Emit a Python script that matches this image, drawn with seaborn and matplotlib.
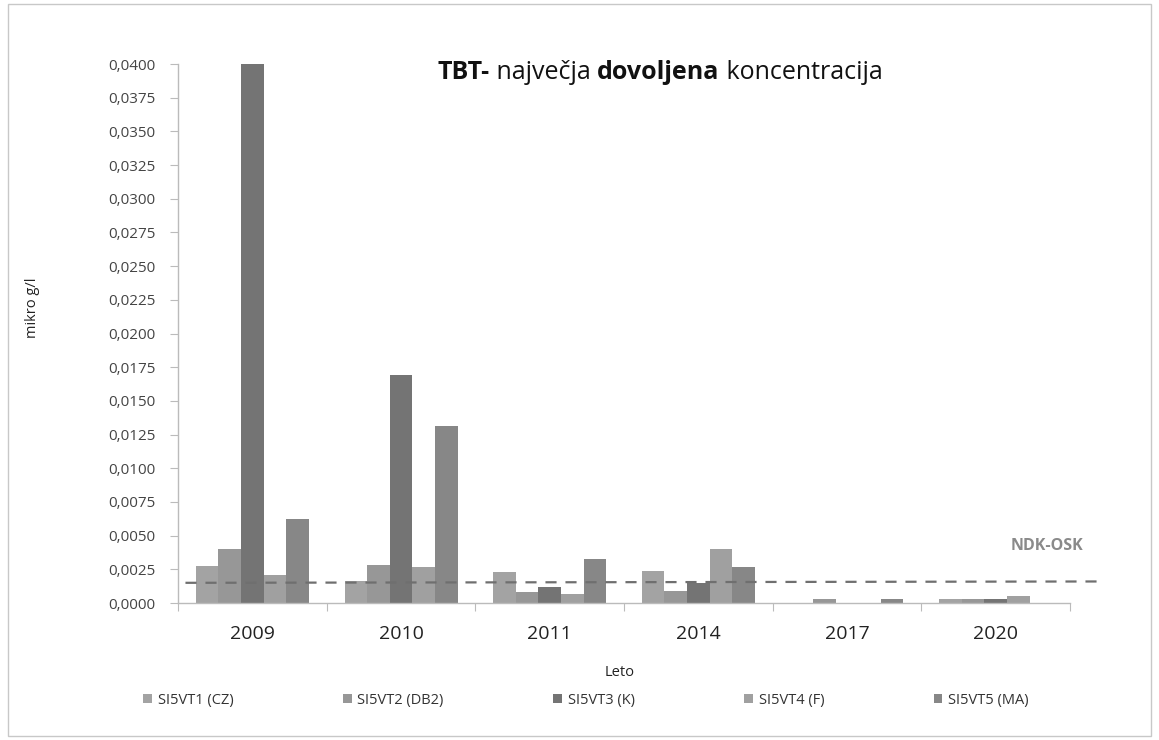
import numpy as np
import matplotlib
matplotlib.use("Agg")
import matplotlib.pyplot as plt
import seaborn as sns
import pandas as pd
from matplotlib.ticker import FuncFormatter, MultipleLocator
from matplotlib.patches import Rectangle

# data (mikro g/l)
YEARS = ["2009", "2010", "2011", "2014", "2017", "2020"]
STATIONS = ["SI5VT1 (CZ)", "SI5VT2 (DB2)", "SI5VT3 (K)", "SI5VT4 (F)", "SI5VT5 (MA)"]
SI5VT1 = [0.00275, 0.00165, 0.00228, 0.0024, 0.0, 0.0003]
SI5VT2 = [0.0040, 0.0028, 0.0008, 0.0009, 0.0003, 0.0003]
SI5VT3 = [0.0400, 0.0169, 0.0012, 0.0015, 0.0, 0.0003]
SI5VT4 = [0.0021, 0.00265, 0.00065, 0.0040, 0.0, 0.0005]
SI5VT5 = [0.0062, 0.0131, 0.0033, 0.0027, 0.0003, 0.0]
NDK_OSK = [0.0015, 0.0016]  # dashed limit line, left and right end

COLORS = ["#a3a3a3", "#979797", "#747474", "#a0a0a0", "#878787"]

sns.set_style("white")
plt.rcParams["font.family"] = ["Open Sans", "DejaVu Sans"]

rows = []
for st, vals in zip(STATIONS, [SI5VT1, SI5VT2, SI5VT3, SI5VT4, SI5VT5]):
    for yr, v in zip(YEARS, vals):
        rows.append({"Leto": yr, "postaja": st, "val": v})
df = pd.DataFrame(rows)

fig = plt.figure(figsize=(11.59, 7.40), dpi=100)
ax = fig.add_axes([0.1536, 0.1851, 0.7696, 0.7284])

sns.barplot(data=df, x="Leto", y="val", hue="postaja", order=YEARS,
            hue_order=STATIONS, palette=COLORS, width=0.76, saturation=1,
            linewidth=0, ax=ax, legend=True)

# NDK-OSK limit line, runs past the plot area on the right
ax.plot([-0.45, 5.72], NDK_OSK, color="#6f6f6f", linestyle=(0, (5, 4)),
        linewidth=1.6, clip_on=False, zorder=5)
ax.text(5.345, 0.00423, "NDK-OSK", color="#8a8a8a", fontsize=11.5,
        fontweight="bold", ha="center", va="center")

ax.set_xlim(-0.5, 5.5)
ax.set_ylim(0, 0.04)
ax.yaxis.set_major_locator(MultipleLocator(0.0025))
ax.yaxis.set_major_formatter(FuncFormatter(lambda v, p: f"{v:.4f}".replace(".", ",")))
ax.tick_params(axis="y", labelsize=11, labelcolor="#444444", length=6, width=0.8,
               left=True, color="#bbbbbb", pad=10)
ax.tick_params(axis="x", labelsize=14, labelcolor="#222222", length=0, pad=16)
ax.set_xticks(np.arange(-0.5, 6, 1), minor=True)
ax.tick_params(axis="x", which="minor", bottom=True, length=6, width=0.8, color="#bbbbbb")

for s in ["top", "right"]:
    ax.spines[s].set_visible(False)
for s in ["left", "bottom"]:
    ax.spines[s].set_color("#bbbbbb")
    ax.spines[s].set_linewidth(1)

ax.set_xlabel("Leto", fontsize=10.5, color="#222222")
ax.set_ylabel("mikro g/l", fontsize=10.5, color="#222222")
ax.xaxis.set_label_coords(0.4955, -0.115)
ax.yaxis.set_label_coords(-0.155, 0.547)

# mixed bold/normal title
parts = [("TBT-", "bold"), (" največja ", "normal"), ("dovoljena", "bold"), (" koncentracija", "normal")]
fig.canvas.draw()
renderer = fig.canvas.get_renderer()
texts = []
for s, w in parts:
    t = fig.text(0, 0.9027, s, fontsize=18, fontweight=w, color="#111111", va="center")
    texts.append(t)
widths = [t.get_window_extent(renderer).width for t in texts]
start = 660 - sum(widths) / 2
for t, wd in zip(texts, widths):
    t.set_x(start / fig.bbox.width)
    start += wd

ax.legend(loc="center", bbox_to_anchor=(0.5056, 0.054), bbox_transform=fig.transFigure,
          ncol=5, frameon=False, fontsize=10.5, handlelength=0.6, handleheight=0.6,
          handletextpad=0.4, columnspacing=7.5, labelcolor="#333333", title=None)

fig.patches.append(Rectangle((0.007, 0.006), 0.986, 0.988, transform=fig.transFigure,
                             fill=False, edgecolor="#c8c8c8", linewidth=1))

fig.savefig("out.png", dpi=100, facecolor="white")
